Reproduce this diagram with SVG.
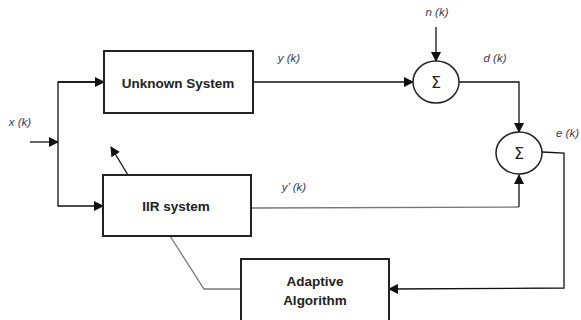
<svg xmlns="http://www.w3.org/2000/svg" width="581" height="320" viewBox="0 0 581 320">
<style>
.box{fill:#fff;stroke:#222;stroke-width:2}
.sum{fill:#fff;stroke:#222;stroke-width:1.5}
.bt{font-family:"Liberation Sans",Arial,sans-serif;font-weight:bold;font-size:13.5px;fill:#222;text-anchor:middle}
.lb{font-family:"Liberation Sans",Arial,sans-serif;font-style:italic;font-size:11.5px;fill:#3a3a50;text-anchor:middle}
.sg{font-family:"DejaVu Sans",sans-serif;font-size:16px;fill:#222;text-anchor:middle}
.w{fill:none;stroke:#111;stroke-width:1.3}
.g{fill:none;stroke:#777;stroke-width:1.3}
</style>
<defs>
<marker id="ah" markerWidth="10" markerHeight="10" refX="9" refY="5" orient="auto" markerUnits="userSpaceOnUse">
<path d="M0,0 L10,5 L0,10 Z" fill="#111"/>
</marker>
</defs>
<g id="connectors">
<polyline class="w" points="30,142 58,142" marker-end="url(#ah)"/>
<polyline class="w" points="103,82 58,82 58,206 103,206" marker-end="url(#ah)"/>
<polyline class="w" points="58,82 104,82" marker-end="url(#ah)"/>
<line class="w" x1="128" y1="175" x2="111" y2="147" marker-end="url(#ah)"/>
<line class="w" x1="253" y1="82" x2="413" y2="82" marker-end="url(#ah)"/>
<line class="w" x1="436" y1="27" x2="436" y2="61" marker-end="url(#ah)"/>
<polyline class="w" points="459,82 519,82 519,132" marker-end="url(#ah)"/>
<polyline class="g" points="251,208 519,207"/>
<line class="w" x1="519" y1="207" x2="519" y2="175" marker-end="url(#ah)"/>
<polyline class="w" points="542,152 564,153 564,288 389,289" marker-end="url(#ah)"/>
<polyline class="g" points="170,236 204,289 241,289"/>
</g>
<g id="unknown">
<rect class="box" x="104" y="51" width="149" height="62"/>
<text class="bt" x="178" y="88">Unknown System</text>
</g>
<g id="iir">
<rect class="box" x="103" y="175" width="148" height="61"/>
<text class="bt" x="176" y="211">IIR system</text>
</g>
<g id="adaptive">
<rect class="box" x="241" y="259" width="148" height="70"/>
<text class="bt" x="315" y="286">Adaptive</text>
<text class="bt" x="315" y="305">Algorithm</text>
</g>
<g id="sum1">
<ellipse class="sum" cx="436" cy="82" rx="23" ry="21"/>
<text class="sg" x="436" y="88">Σ</text>
</g>
<g id="sum2">
<ellipse class="sum" cx="519" cy="153" rx="23" ry="21"/>
<text class="sg" x="519" y="159">Σ</text>
</g>
<g id="labels">
<text class="lb" x="20" y="126">x (k)</text>
<text class="lb" x="289" y="62">y (k)</text>
<text class="lb" x="437" y="16">n (k)</text>
<text class="lb" x="495" y="62">d (k)</text>
<text class="lb" x="579" y="137" style="text-anchor:end">e (k)</text>
<text class="lb" x="294" y="191">y’ (k)</text>
</g>
</svg>
